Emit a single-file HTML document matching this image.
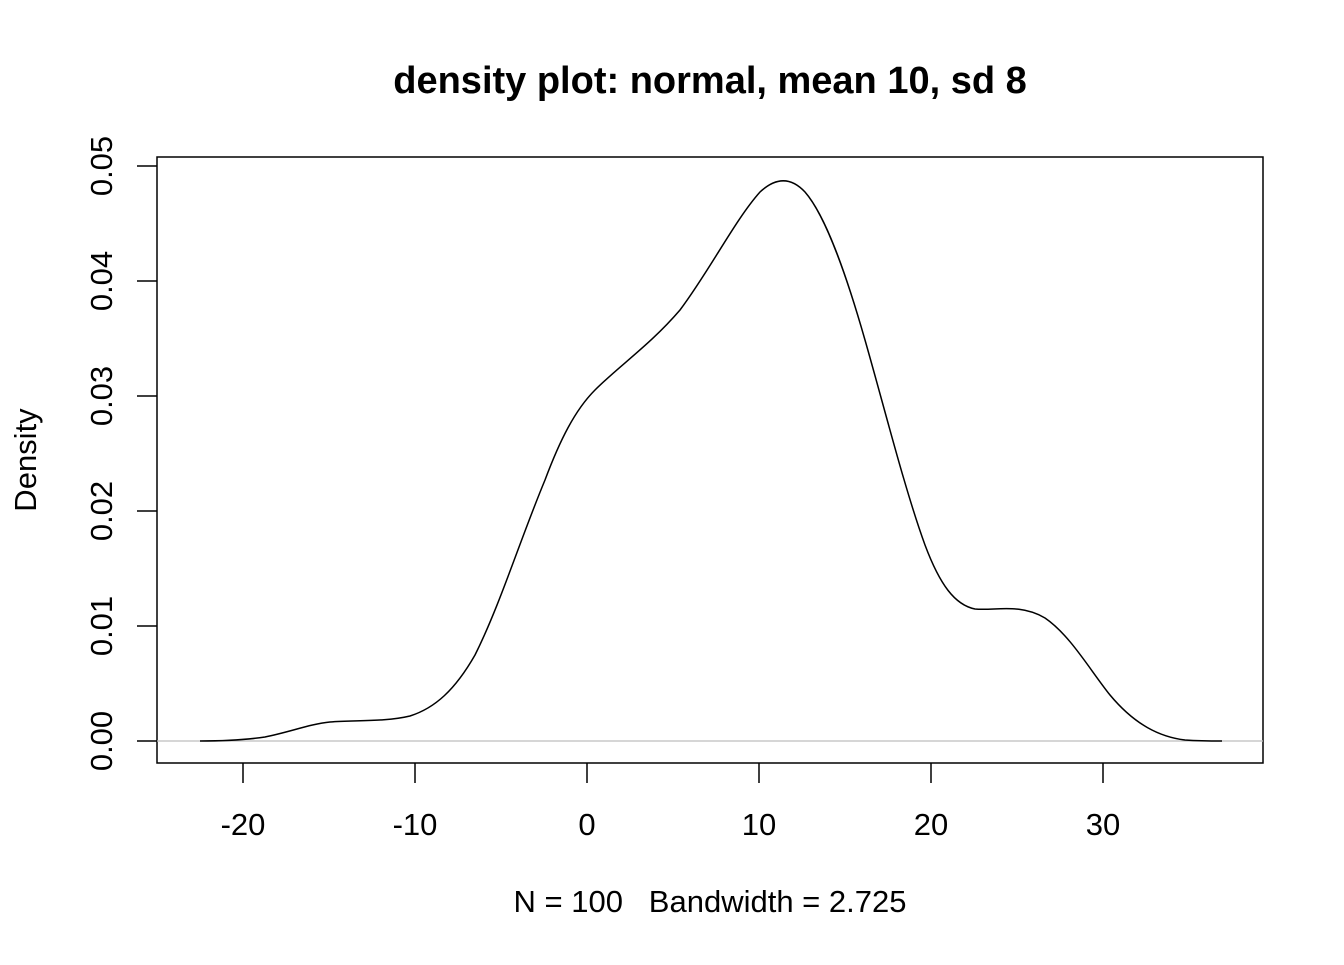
<!DOCTYPE html>
<html><head><meta charset="utf-8"><style>body{margin:0;background:#fff}</style></head>
<body>
<svg width="1344" height="960" xmlns="http://www.w3.org/2000/svg" font-family="Liberation Sans, Arial, sans-serif">
<rect width="1344" height="960" fill="#fff"/>
<text x="710" y="93" text-anchor="middle" font-size="38" font-weight="bold">density plot: normal, mean 10, sd 8</text>
<rect x="157" y="157" width="1106" height="606" fill="none" stroke="#000" stroke-width="1.5"/>
<line x1="157" y1="741" x2="1263" y2="741" stroke="#bebebe" stroke-width="1.2"/>
<g stroke="#000" stroke-width="1.5">
<line x1="243" y1="763" x2="243" y2="783"/><line x1="415" y1="763" x2="415" y2="783"/><line x1="587" y1="763" x2="587" y2="783"/><line x1="759" y1="763" x2="759" y2="783"/><line x1="931" y1="763" x2="931" y2="783"/><line x1="1103" y1="763" x2="1103" y2="783"/>
<line x1="157" y1="741" x2="137" y2="741"/><line x1="157" y1="626" x2="137" y2="626"/><line x1="157" y1="511" x2="137" y2="511"/><line x1="157" y1="396" x2="137" y2="396"/><line x1="157" y1="281" x2="137" y2="281"/><line x1="157" y1="166" x2="137" y2="166"/>
</g>
<g font-size="31" text-anchor="middle">
<text x="243" y="835">-20</text><text x="415" y="835">-10</text><text x="587" y="835">0</text><text x="759" y="835">10</text><text x="931" y="835">20</text><text x="1103" y="835">30</text>
<text x="710" y="912" style="white-space:pre">N = 100   Bandwidth = 2.725</text>
</g>
<g font-size="31" text-anchor="middle">
<text transform="translate(112,741) rotate(-90)">0.00</text>
<text transform="translate(112,626) rotate(-90)">0.01</text>
<text transform="translate(112,511) rotate(-90)">0.02</text>
<text transform="translate(112,396) rotate(-90)">0.03</text>
<text transform="translate(112,281) rotate(-90)">0.04</text>
<text transform="translate(112,166) rotate(-90)">0.05</text>
<text transform="translate(36,460) rotate(-90)">Density</text>
</g>
<path fill="none" stroke="#000" stroke-width="1.5" d="M200,741 C225,741 245,740 265,737 C290,732 310,724 330,722 C355,720 385,722 410,716 C435,708 455,690 475,655 C500,605 520,540 545,480 C560,440 575,410 595,390 C620,365 650,345 680,310 C710,270 735,220 760,192 C775,178 790,176 805,192 C825,215 845,270 865,340 C885,410 905,490 925,545 C940,585 955,605 975,609 C995,611 1020,603 1045,618 C1070,635 1090,670 1110,695 C1135,725 1160,737 1185,740 C1200,741 1210,741 1222,741"/>
</svg>
</body></html>
